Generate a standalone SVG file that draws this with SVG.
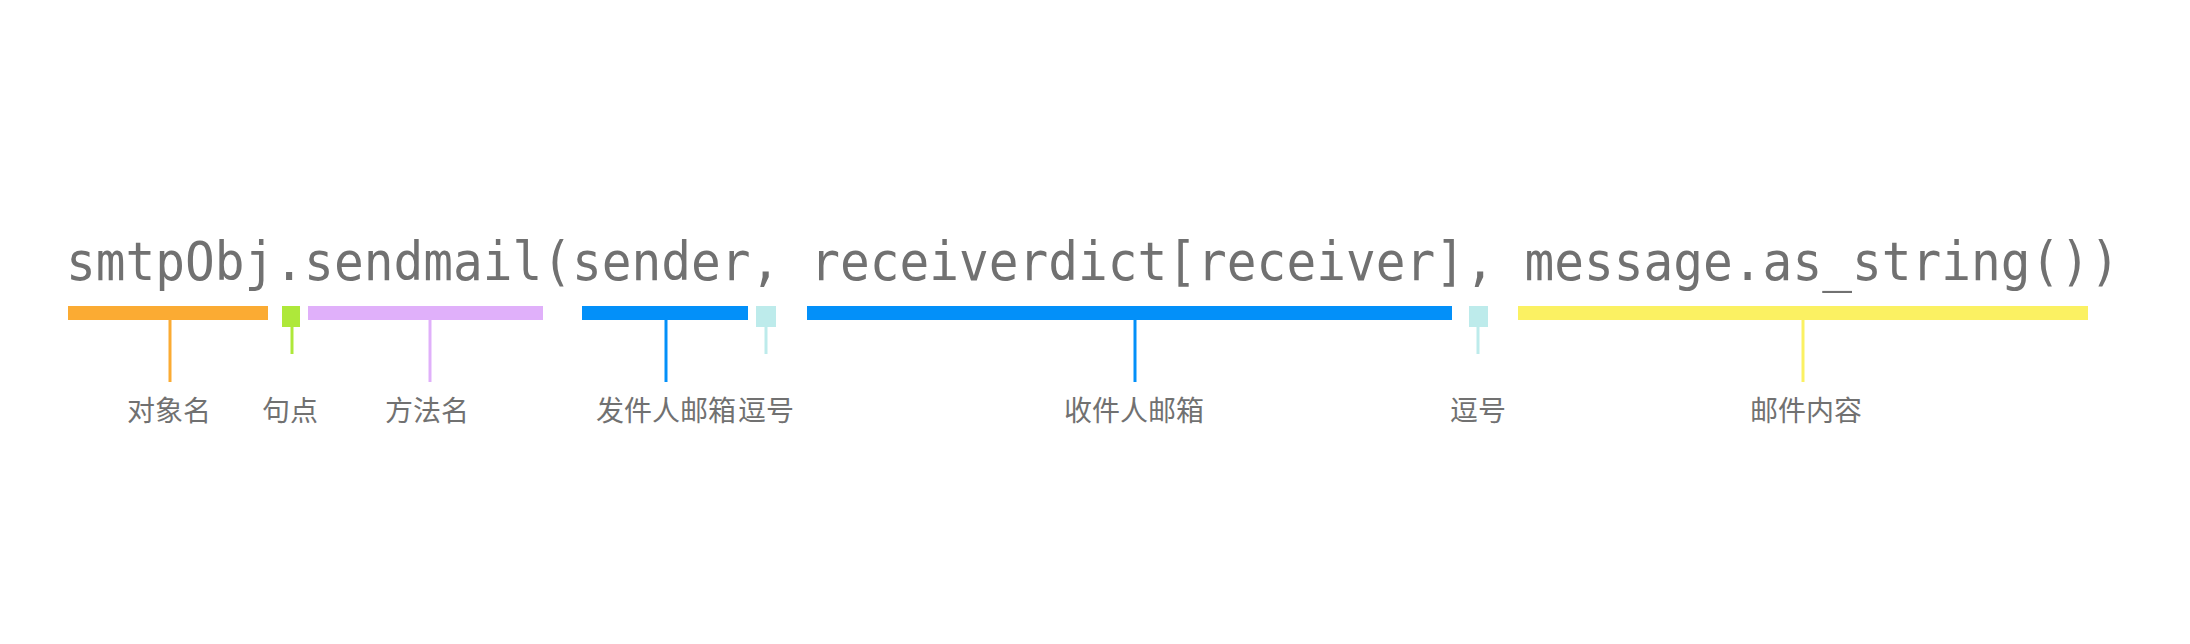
<svg xmlns="http://www.w3.org/2000/svg" width="2190" height="644" viewBox="0 0 2190 644">
<style>
.code{font-family:"DejaVu Sans Mono","Liberation Mono",monospace;font-size:54px;fill:#717171;}
.lbl{font-family:"Noto Sans CJK SC","Noto Sans",sans-serif;font-size:28px;fill:#717171;text-anchor:middle;}
.stem{stroke-width:3;fill:none;}
</style>
<rect width="2190" height="644" fill="#ffffff"/>
<g id="code">
<text class="code" transform="translate(66,280) scale(0.9157,1)" x="0" y="0">smtpObj.sendmail(sender, receiverdict[receiver], message.as_string())</text>
</g>
<g id="connectors">
<line class="stem" x1="170" y1="319" x2="170" y2="382" stroke="#FBAB33"/>
<line class="stem" x1="292" y1="326" x2="292" y2="354" stroke="#AEE83A"/>
<line class="stem" x1="430" y1="319" x2="430" y2="382" stroke="#E0B0FA"/>
<line class="stem" x1="666" y1="319" x2="666" y2="382" stroke="#0390F9"/>
<line class="stem" x1="766" y1="326" x2="766" y2="354" stroke="#BDEBEB"/>
<line class="stem" x1="1135" y1="319" x2="1135" y2="382" stroke="#0390F9"/>
<line class="stem" x1="1478" y1="326" x2="1478" y2="354" stroke="#BDEBEB"/>
<line class="stem" x1="1803" y1="319" x2="1803" y2="382" stroke="#FBF162"/>
</g>
<g id="objname">
<rect x="68" y="306" width="200" height="14" fill="#FBAB33"/>
<text class="lbl" x="169" y="421">对象名</text>
</g>
<g id="dot">
<rect x="282" y="306" width="18" height="21" fill="#AEE83A"/>
<text class="lbl" x="290" y="421">句点</text>
</g>
<g id="method">
<rect x="308" y="306" width="235" height="14" fill="#E0B0FA"/>
<text class="lbl" x="427" y="421">方法名</text>
</g>
<g id="sender">
<rect x="582" y="306" width="166" height="14" fill="#0390F9"/>
<text class="lbl" x="666" y="421">发件人邮箱</text>
</g>
<g id="comma1">
<rect x="756" y="306" width="20" height="21" fill="#BDEBEB"/>
<text class="lbl" x="766" y="421">逗号</text>
</g>
<g id="receiver">
<rect x="807" y="306" width="645" height="14" fill="#0390F9"/>
<text class="lbl" x="1134" y="421">收件人邮箱</text>
</g>
<g id="comma2">
<rect x="1469" y="306" width="19" height="21" fill="#BDEBEB"/>
<text class="lbl" x="1478" y="421">逗号</text>
</g>
<g id="content">
<rect x="1518" y="306" width="570" height="14" fill="#FBF162"/>
<text class="lbl" x="1806" y="421">邮件内容</text>
</g>
</svg>
